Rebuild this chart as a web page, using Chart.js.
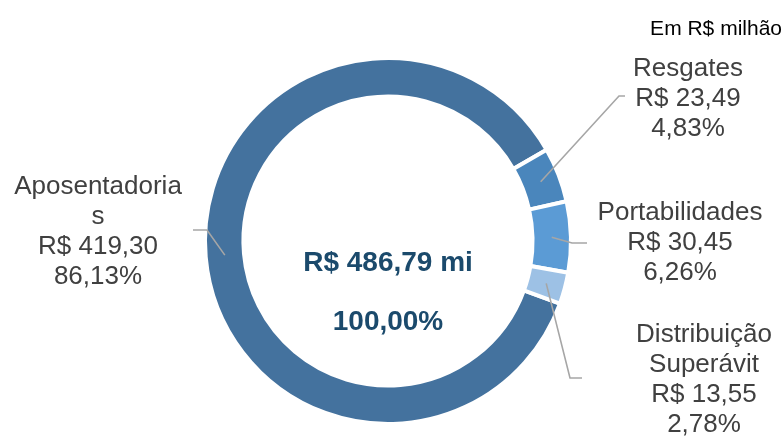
<!DOCTYPE html>
<html>
<head>
<meta charset="utf-8">
<script src="https://cdn.jsdelivr.net/npm/chart.js@4.4.1/dist/chart.umd.min.js"></script>
<style>
  html, body { margin: 0; padding: 0; background: #ffffff; }
  #wrap { position: relative; width: 784px; height: 437px; }
</style>
</head>
<body>
<div id="wrap"><canvas id="c" width="784" height="437"></canvas></div>
<script>
// ---- data ----
const categories = ["Aposentadorias", "Resgates", "Portabilidades", "Distribuição Superávit"];
const labelLines = [["Aposentadoria", "s"], ["Resgates"], ["Portabilidades"], ["Distribuição", "Superávit"]];
const values = [419.30, 23.49, 30.45, 13.55];
const valueLabels = ["R$ 419,30", "R$ 23,49", "R$ 30,45", "R$ 13,55"];
const percentLabels = ["86,13%", "4,83%", "6,26%", "2,78%"];
const totalLabel = "R$ 486,79 mi";
const totalPercentLabel = "100,00%";
const unitNote = "Em R$ milhão";

// ---- styling / layout (not data) ----
const colors = ["#44729E", "#4A86BC", "#5B9BD5", "#9DC1E5"];
const labelLayout = [
  { x: 98,  y: 194, elbow: [207, 230], end: [193, 230] },
  { x: 688, y: 76,  elbow: [619, 96],  end: [625, 96] },
  { x: 680, y: 220, elbow: [572, 243], end: [587, 243] },
  { x: 704, y: 342, elbow: [570, 378], end: [582, 378] }
];
const lineHeight = 30;

const labelPlugin = {
  id: 'labelPlugin',
  afterDraw(chart) {
    const ctx = chart.ctx;
    const meta = chart.getDatasetMeta(0);
    ctx.save();
    // leader lines
    ctx.strokeStyle = '#A6A6A6';
    ctx.lineWidth = 1.6;
    ctx.lineJoin = 'miter';
    meta.data.forEach((arc, i) => {
      const p = arc.tooltipPosition();
      const L = labelLayout[i];
      ctx.beginPath();
      ctx.moveTo(p.x, p.y);
      ctx.lineTo(L.elbow[0], L.elbow[1]);
      ctx.lineTo(L.end[0], L.end[1]);
      ctx.stroke();
    });
    // labels
    ctx.fillStyle = '#404040';
    ctx.font = '26px "Liberation Sans", Arial, sans-serif';
    ctx.textAlign = 'center';
    ctx.textBaseline = 'alphabetic';
    meta.data.forEach((arc, i) => {
      const L = labelLayout[i];
      const lines = labelLines[i].concat([valueLabels[i], percentLabels[i]]);
      lines.forEach((t, k) => ctx.fillText(t, L.x, L.y + k * lineHeight));
    });
    // center text
    const cx = meta.data[0].x;
    const cy = meta.data[0].y;
    ctx.fillStyle = '#1B4A6C';
    ctx.font = 'bold 28px "Liberation Sans", Arial, sans-serif';
    ctx.fillText(totalLabel, cx, cy + 30);
    ctx.fillText(totalPercentLabel, cx, cy + 89);
    // unit note
    ctx.fillStyle = '#000000';
    ctx.font = '21px "Liberation Sans", Arial, sans-serif';
    ctx.textAlign = 'right';
    ctx.fillText(unitNote, 782, 35);
    ctx.restore();
  }
};

new Chart(document.getElementById('c'), {
  type: 'doughnut',
  data: {
    labels: categories,
    datasets: [{
      data: values,
      backgroundColor: colors,
      borderColor: '#ffffff',
      borderWidth: 4,
      hoverOffset: 0
    }]
  },
  options: {
    responsive: false,
    animation: false,
    rotation: 110,
    radius: 183,
    cutout: '79%',
    layout: { padding: { top: 45, bottom: 0, left: 0, right: 8 } },
    plugins: { legend: { display: false }, tooltip: { enabled: false } }
  },
  plugins: [labelPlugin]
});
</script>
</body>
</html>
